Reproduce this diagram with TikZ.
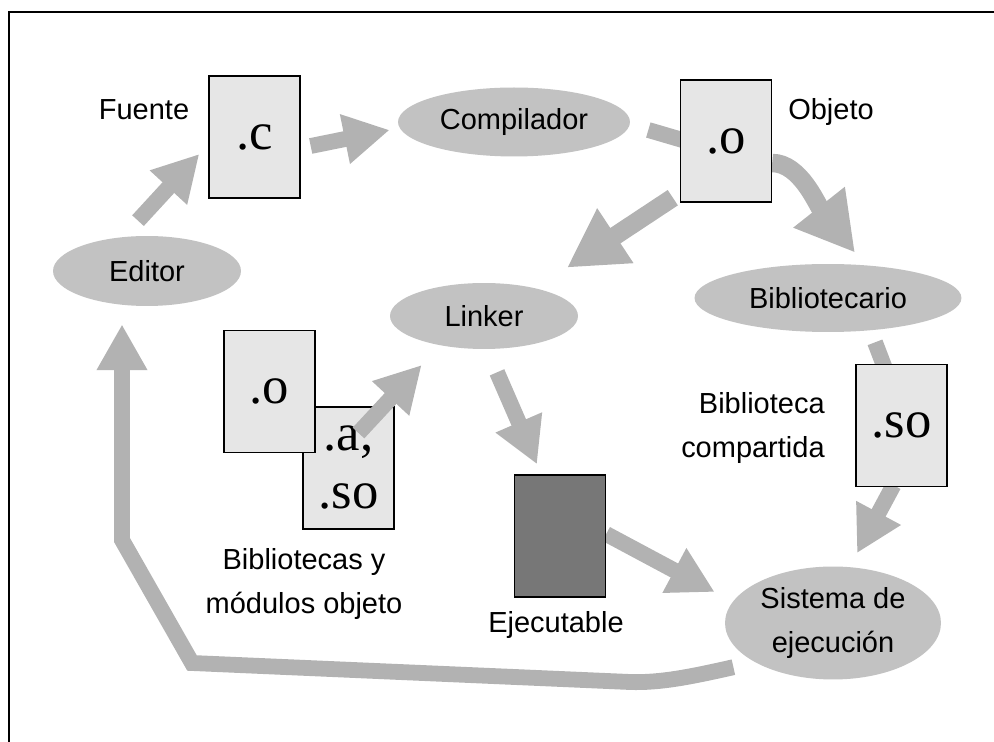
\documentclass[tikz,border=0pt]{standalone}
\usepackage{fontspec}
\setmainfont{Liberation Sans}
\newfontfamily\docfont{Liberation Serif}
\usetikzlibrary{arrows.meta,shapes.geometric,backgrounds}
\definecolor{arrowgray}{RGB}{178,178,178}
\definecolor{ellgray}{RGB}{194,194,194}
\definecolor{docgray}{RGB}{230,230,230}
\definecolor{execgray}{RGB}{119,119,119}
\begin{document}
\begin{tikzpicture}[x=0.02cm,y=-0.02cm,
  proc/.style={ellipse, fill=ellgray, inner sep=0pt, font=\fontsize{16.5}{25.5}\selectfont, align=center},
  doc/.style={rectangle, draw=black, line width=0.8pt, fill=docgray, minimum width=1.82cm, minimum height=2.44cm, inner sep=0pt, font=\docfont\fontsize{30}{33}\selectfont, align=center},
  lbl/.style={font=\fontsize{16.5}{25.5}\selectfont, inner sep=0pt, align=center},
  flow/.style={draw=arrowgray, line width=9pt, line join=miter, -{Triangle[width=27pt,length=26pt]}},
  bigflow/.style={draw=arrowgray, line width=10.5pt, -{Triangle[width=35pt,length=33pt]}},
  shaft/.style={draw=arrowgray, line width=9pt},
]
\useasboundingbox (0,0) rectangle (994,742);
% frame
\draw[line width=1.3pt] (9,742) -- (9,12) -- (994,12);

% processes
\node[proc, minimum width=3.76cm, minimum height=1.40cm] (editor) at (147,271) {Editor};
\node[proc, minimum width=4.64cm, minimum height=1.38cm] (compilador) at (514,122) {Compilador};
\node[proc, minimum width=3.76cm, minimum height=1.32cm] (linker) at (484,316) {Linker};
\node[proc, minimum width=5.34cm, minimum height=1.36cm] (biblio) at (828,298) {Bibliotecario};
\node[proc, minimum width=4.32cm, minimum height=2.26cm] (sistema) at (833,623) {Sistema de\\ejecución};

% documents
\node[doc] (srcC) at (254.5,137) {.c};
\node[doc] (objO) at (726,141) {.o};
\node[doc] (libA) at (348.5,468) {.a,\\.so};
\node[doc] (libO) at (269.5,391.5) {.o};
\node[doc] (soDoc) at (901.5,425.5) {.so};
\node[doc, fill=execgray] (exec) at (560,536) {};

% labels
\node[lbl, anchor=base] (fuente) at (144,120) {Fuente};
\node[lbl, anchor=base] (objeto) at (831,120) {Objeto};
\node[lbl, anchor=east, align=right] (bibcomp) at (825,428) {Biblioteca\\compartida};
\node[lbl] (biblios) at (304,584) {Bibliotecas y\\módulos objeto};
\node[lbl, anchor=base] (ejec) at (556,633) {Ejecutable};

% connectors
\begin{scope}[on background layer]
\draw[flow] ([shift={(-9,-15)}]editor.north) -- ([shift={(-9,17)}]srcC.west);
\draw[flow] ([shift={(10,9)}]srcC.east) -- ([shift={(-8,8)}]compilador.west);
\draw[shaft] ([shift={(18,8)}]compilador.east) -- ([shift={(6,0)}]objO.west);
\draw[bigflow] ([shift={(0,22)}]objO.east) .. controls +(28,0) and +(-38,-48) .. ([shift={(27,-11)}]biblio.north);
\draw[bigflow] ([shift={(-7,-5)}]objO.south west) -- ([shift={(83,-15)}]linker.north);
\draw[flow] ([shift={(13,23)}]linker.south) -- ([shift={(-23,-10)}]exec.north);
\draw[shaft] ([shift={(47,10)}]biblio.south) -- ([shift={(-16,6)}]soDoc.north);
\draw[flow] ([shift={(-8,-2)}]soDoc.south) -- ([shift={(24,-13)}]sistema.north);
\draw[flow] ([shift={(0,-2)}]exec.east) -- ([shift={(-10,-31)}]sistema.west);
\coordinate (b1) at (630,682);
\coordinate (b2) at (192,663);
\coordinate (b3) at (122,540);
\draw[flow] ([shift={(-23,4)}]sistema.south west) .. controls (690,677) and (660,683) .. (b1) -- (b2) -- (b3) -- ([shift={(-25,18)}]editor.south);
\end{scope}
\draw[flow] ([shift={(10,-35)}]libA.center) -- ([shift={(32,49)}]linker.west);
\end{tikzpicture}
\end{document}
